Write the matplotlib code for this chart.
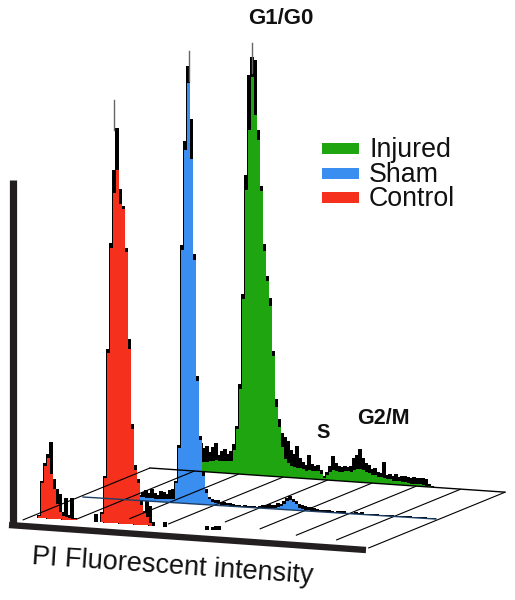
import numpy as np
import matplotlib
matplotlib.use('Agg')
import matplotlib.pyplot as plt

plt.rcParams['font.family'] = ['Liberation Sans', 'DejaVu Sans']

# histogram heights, one value per 3 px channel
injured_start = 198
injured_black = [22, 28, 24, 26, 20, 25, 29, 18, 22, 24, 19, 23,
                 30, 48, 90, 180, 300, 400, 418,
                 415, 345, 290, 232, 200, 178, 125, 78, 58, 44,
                 40, 36, 28, 24, 32, 20, 16, 14, 24, 15,
                 13, 14, 10, 4, 8, 14, 24, 18, 15, 14,
                 15, 14, 16, 24, 27, 33, 24, 20, 18, 14,
                 15, 12, 11, 22, 9, 10, 9, 11, 8, 9,
                 9, 9, 8, 9, 8, 8, 9, 8, 3, 1]
injured_fill = [8, 9, 10, 10, 11, 11, 12, 12, 12, 12, 12, 13,
                24, 45, 85, 175, 285, 345, 398,
                360, 335, 285, 225, 195, 170, 120, 70, 50, 30,
                18, 14, 12, 11, 10, 10, 9, 8, 9, 8,
                8, 8, 6, 2, 5, 8, 10, 10, 9, 9,
                10, 10, 10, 12, 13, 13, 12, 11, 10, 8,
                8, 7, 7, 6, 5, 5, 4, 4, 4, 3,
                3, 3, 2, 2, 2, 2, 2, 1, 1, 0]

sham_start = 140
sham_black = [6, 9, 11, 8, 12, 9, 7, 11, 10, 8,
              12, 14, 22, 58, 258, 362, 438, 385, 250, 128,
              68, 33, 16, 8, 6, 5, 5, 4, 4, 3,
              3, 2, 2, 2, 1, 2, 1, 2, 2, 1,
              2, 3, 3, 5, 4, 4, 6, 5, 9, 12,
              14, 11, 9, 7, 6, 5, 4, 4, 3, 3,
              2, 2, 2, 2, 2, 1, 2, 2, 2, 1,
              1, 1, 2, 1, 2, 1, 1, 1, 1, 1,
              1, 1, 1, 1, 1, 1, 1, 1, 1, 1,
              1, 1, 1, 1, 1, 1, 1, 1, 1]
sham_fill = [4, 4, 3, 3, 3, 3, 3, 3, 3, 3,
             3, 4, 20, 55, 253, 353, 421, 345, 244, 123,
             64, 29, 12, 6, 3, 2, 2, 1, 1, 1,
             0, 0, 0, 0, 0, 0, 0, 0, 0, 0,
             0, 0, 0, 1, 1, 1, 2, 3, 6, 9,
             10, 8, 6, 3, 2, 1, 1, 0, 0, 0,
             0, 0, 0, 0, 0, 0, 0, 0, 0, 0,
             0, 0, 0, 0, 0, 0, 0, 0, 0, 0,
             0, 0, 0, 0, 0, 0, 0, 0, 0, 0,
             0, 0, 0, 0, 0, 0, 0, 0, 0]

control_start = 33
control_black = [0, 0, 3, 37, 55, 65, 77, 40, 30, 25,
                 8, 22, 5, 22, 2, 0, 0, 0, 0, 0,
                 0, 8, 0, 10, 47, 174, 280, 353, 395, 335,
                 318, 276, 185, 100, 60, 46, 24, 14, 24, 20,
                 4, 0, 0, 0, 5, 0, 0, 0, 0, 0,
                 0, 0, 0, 0, 0, 0, 0, 0, 4, 0,
                 3, 4, 4, 0]
control_fill = [0, 0, 2, 35, 52, 61, 45, 30, 15, 7,
                4, 3, 2, 1, 1, 0, 0, 0, 0, 0,
                0, 0, 0, 8, 45, 170, 275, 330, 353, 320,
                315, 272, 175, 95, 55, 42, 20, 12, 8, 3,
                0, 0, 0, 0, 0, 0, 0, 0, 0, 0,
                0, 0, 0, 0, 0, 0, 0, 0, 0, 0,
                0, 0, 0, 0]

labels = ['Injured', 'Sham', 'Control']
colors = ['#1fa50f', '#3a8eef', '#f5301c']
ink = '#231f20'

# depth where each floor line starts (0 front, 1 back)
grid_start = [0.07, 0.14, 0.2, 0.16, 0.25, 0.18, 0.12, 0.09, 0.0]


def base_y(x, x0, y0, slope):
    return y0 + slope * (np.asarray(x, dtype=float) - x0)


def draw_series(ax, start, black, fill, color, x0, y0, slope, tip_x, tip_h):
    x = start + 3 * np.arange(len(black))
    base = base_y(x, x0, y0, slope)
    ax.bar(x, -np.array(black), width=3.6, bottom=base, color='black', lw=0)
    ax.bar(x, -np.array(fill), width=3, bottom=base, color=color, lw=0)
    if tip_x is not None:
        tb = base_y(tip_x, x0, y0, slope)
        ax.plot([tip_x, tip_x], [tb - tip_h + 30, tb - tip_h], color='#666666', lw=1)


fig = plt.figure(figsize=(5.15, 6), dpi=100)
ax = fig.add_axes([0, 0, 1, 1])
ax.set_xlim(0, 515)
ax.set_ylim(600, 0)
ax.axis('off')

# floor lines
for u, d in enumerate(grid_start):
    xb = 150 + u * 44.4
    yb = base_y(xb, 150, 468, 0.068)
    xf = xb - 137 * (1 - d)
    yf = yb + 56 * (1 - d)
    ax.plot([xf, xb], [yf, yb], color='black', lw=0.8, solid_capstyle='butt')

# baselines
bx = np.array([150, 505])
ax.plot(bx, base_y(bx, 150, 468, 0.068), color='black', lw=1)
bx = np.array([83, 436])
ax.plot(bx, base_y(bx, 83, 497, 0.0625), color='#1d3f66', lw=1)

draw_series(ax, injured_start, injured_black, injured_fill, colors[0], 150, 468, 0.068, 252, 432)
draw_series(ax, sham_start, sham_black, sham_fill, colors[1], 83, 497, 0.0625, 189, 453)
draw_series(ax, control_start, control_black, control_fill, colors[2], 12, 516, 0.07, 114, 423)

# thick axes
ax.plot([12.5, 12.5], [180, 525], color=ink, lw=5.2, solid_capstyle='butt')
ax.plot([9, 366], [525, 550], color=ink, lw=4.6, solid_capstyle='butt')

# legend
for i, (lab, col) in enumerate(zip(labels, colors)):
    ax.bar(340, 11, width=37, bottom=143 + i * 24.5, color=col, lw=0)
    ax.text(369, 157 + i * 24.5, lab, fontsize=19.3, color='#111111', va='baseline', ha='left')

ax.text(248, 18, 'G1/G0', fontsize=16, fontweight='bold', va='center', ha='left', color='#111111')
ax.text(323, 433, 'S', fontsize=14.5, fontweight='bold', va='center', ha='center', color='#111111')
ax.text(357, 419, 'G2/M', fontsize=15.5, fontweight='bold', va='center', ha='left', color='#111111')
ax.text(173, 567, 'PI Fluorescent intensity', fontsize=19.5, rotation=-3.9, rotation_mode='anchor',
        va='center', ha='center', color='#111111')

plt.savefig('out.png', dpi=100)
